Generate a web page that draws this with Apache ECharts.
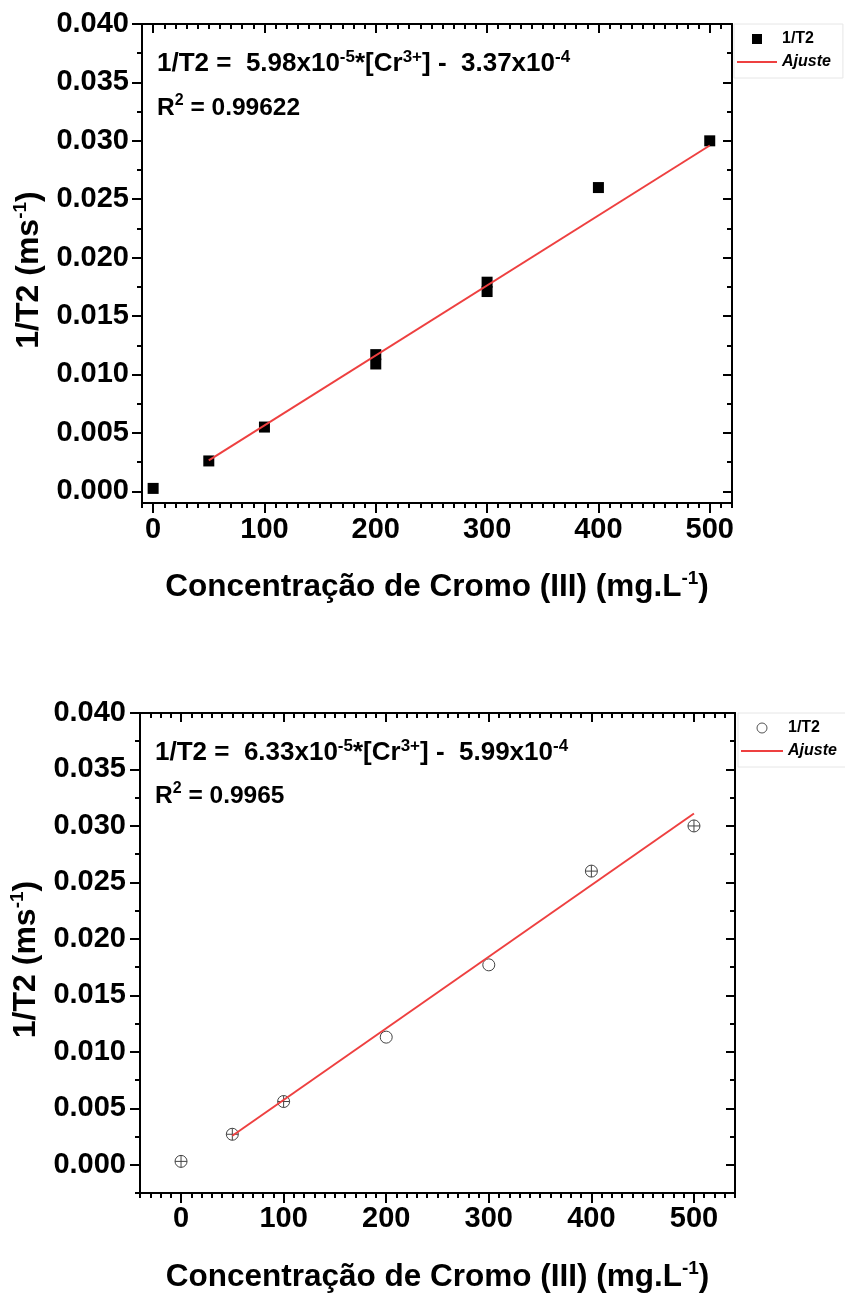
<!DOCTYPE html>
<html><head><meta charset="utf-8">
<script src="https://cdn.jsdelivr.net/npm/echarts@6/dist/echarts.min.js"></script>
<style>html,body{margin:0;padding:0;background:#fff}#c{width:845px;height:1293px}</style>
</head><body><div id="c"></div>
<script>
// ---- data ----
const concTop = [0, 50, 100, 200, 200, 300, 300, 400, 500];
const invT2Top = [0.00025, 0.0026, 0.0055, 0.0117, 0.0109, 0.0179, 0.0171, 0.0260, 0.0300];
const fitXTop = [50, 500];
const fitYTop = [0.00265, 0.0296];

const concBottom = [0, 50, 100, 200, 300, 400, 500];
const invT2Bottom = [0.0003, 0.0027, 0.0056, 0.0113, 0.0177, 0.0260, 0.0300];
const errCrossBottom = [true, true, true, false, false, true, true];
const fitXBottom = [50, 500];
const fitYBottom = [0.00257, 0.0311];

const xMajorTicks = [0, 100, 200, 300, 400, 500];
const yMajorTicks = [0, 0.005, 0.010, 0.015, 0.020, 0.025, 0.030, 0.035, 0.040];
const xMinorStep = 10;
const yMinorStep = 0.0025;

const eqTop = ['1/T2 =  5.98x10', '-5', '*[Cr', '3+', '] -  3.37x10', '-4'];
const r2Top = ['R', '2', ' = 0.99622'];
const eqBottom = ['1/T2 =  6.33x10', '-5', '*[Cr', '3+', '] -  5.99x10', '-4'];
const r2Bottom = ['R', '2', ' = 0.9965'];
const xName = ['Concentração de Cromo (III) (mg.L', '-1', ')'];
const yName = ['1/T2 (ms', '-1', ')'];

// ---- helpers ----
const FONT = '"Liberation Sans", Arial, Helvetica, sans-serif';
const RED = '#ee4040';
function range(a, b, s) {
  const r = [];
  const start = Math.ceil(a / s - 1e-9);
  for (let i = start; i * s <= b + 1e-12; i++) r.push(+(i * s).toFixed(6));
  return r;
}
function richStr(parts) {
  return parts.map((p, i) => (i % 2 === 0 ? '{n|' + p + '}' : '{s|' + p + '}')).join('');
}
function rich(big, small, lh) {
  return {
    n: {fontFamily: FONT, fontWeight: 'bold', fontSize: big, color: '#000', lineHeight: lh},
    s: {fontFamily: FONT, fontWeight: 'bold', fontSize: small, color: '#000', lineHeight: small, verticalAlign: 'top'}
  };
}
const lineSt = {color: '#000', width: 2};
const tickLabel = {fontFamily: FONT, fontWeight: 'bold', fontSize: 29, color: '#000'};

function axesFor(dim, g, min, max, majors, minorStep, nameGap, labelMargin, fmt) {
  const minors = range(min, max, minorStep);
  const posA = dim === 'x' ? 'bottom' : 'left';
  const posB = dim === 'x' ? 'top' : 'right';
  const common = {type: 'value', gridIndex: g, min: min, max: max, splitLine: {show: false}, minorTick: {show: false}};
  const names = dim === 'x' ? xName : yName;
  const nameStyle = {rich: rich(dim === 'x' ? 31.5 : 32, 19, 36)};
  if (dim === 'y') nameStyle.padding = [0, 13, 0, 0];
  return [
    Object.assign({}, common, {
      position: posA,
      name: richStr(names), nameLocation: 'middle', nameGap: nameGap,
      nameRotate: dim === 'x' ? 0 : 90,
      nameTextStyle: nameStyle,
      axisLine: {show: true, onZero: false, lineStyle: lineSt},
      axisTick: {show: true, inside: false, length: 10, customValues: majors, lineStyle: lineSt},
      axisLabel: {show: true, margin: labelMargin, customValues: majors, formatter: fmt, ...tickLabel}
    }),
    Object.assign({}, common, {
      position: posA,
      axisLine: {show: false, onZero: false},
      axisTick: {show: true, inside: false, length: 5, customValues: minors, lineStyle: lineSt},
      axisLabel: {show: false}
    }),
    Object.assign({}, common, {
      position: posB,
      axisLine: {show: true, onZero: false, lineStyle: lineSt},
      axisTick: {show: true, inside: true, length: 9, customValues: majors, lineStyle: lineSt},
      axisLabel: {show: false}
    }),
    Object.assign({}, common, {
      position: posB,
      axisLine: {show: false, onZero: false},
      axisTick: {show: true, inside: true, length: 5, customValues: minors, lineStyle: lineSt},
      axisLabel: {show: false}
    })
  ];
}
const fmtX = v => String(Math.round(v));
const fmtY = v => v.toFixed(3);

const crossPath = 'path://M0,10A10,10 0 1,1 20,10A10,10 0 1,1 0,10ZM10,0L10,20M0,10L20,10';
const squareIcon = 'path://M0,0L10,0L10,10L0,10Z';
const lineIcon = 'path://M0,0L40,0L40,2L0,2Z';

const legendText = {fontFamily: FONT, fontWeight: 'bold', fontSize: 16, color: '#000', lineHeight: 16};

const option = {
  animation: false,
  backgroundColor: '#fff',
  grid: [
    {left: 142, top: 24, right: 845 - 732, height: 479, outerBoundsMode: 'none', containLabel: false},
    {left: 140, top: 713, right: 845 - 735, height: 480, outerBoundsMode: 'none', containLabel: false}
  ],
  xAxis: [].concat(
    axesFor('x', 0, -10, 520, xMajorTicks, xMinorStep, 66, 12, fmtX),
    axesFor('x', 1, -40, 540, xMajorTicks, xMinorStep, 66, 11, fmtX)
  ),
  yAxis: [].concat(
    axesFor('y', 0, -0.001, 0.040, yMajorTicks, yMinorStep, 93, 13, fmtY),
    axesFor('y', 1, -0.0025, 0.040, yMajorTicks, yMinorStep, 91, 14, fmtY)
  ),
  legend: [
    {
      left: 734, top: 24, orient: 'vertical', padding: [7, 12, 8, 3],
      itemWidth: 40, itemHeight: 10, itemGap: 7,
      borderColor: '#e6e6e6', borderWidth: 1, selectedMode: false,
      textStyle: legendText,
      data: [
        {name: '1/T2', icon: squareIcon, itemStyle: {color: '#000', borderWidth: 0, opacity: 1}},
        {name: 'Ajuste', icon: lineIcon, itemStyle: {color: RED, borderWidth: 0}, textStyle: {fontStyle: 'italic'}}
      ]
    },
    {
      left: 738, top: 713, orient: 'vertical', padding: [7, 12, 8, 3],
      itemWidth: 42, itemHeight: 10, itemGap: 7,
      borderColor: '#e6e6e6', borderWidth: 1, selectedMode: false,
      textStyle: legendText,
      data: [
        {name: '1/T2', icon: 'circle', itemStyle: {color: '#fff', borderColor: '#555', borderWidth: 1, opacity: 1}},
        {name: 'Ajuste', icon: lineIcon, itemStyle: {color: RED, borderWidth: 0}, textStyle: {fontStyle: 'italic'}}
      ]
    }
  ],
  graphic: [
    {type: 'text', x: 157, y: 64, style: {text: richStr(eqTop), rich: rich(26, 17, 30), verticalAlign: 'middle', align: 'left'}},
    {type: 'text', x: 157, y: 108, style: {text: richStr(r2Top), rich: rich(24.5, 16, 30), verticalAlign: 'middle', align: 'left'}},
    {type: 'text', x: 155, y: 753, style: {text: richStr(eqBottom), rich: rich(26, 17, 30), verticalAlign: 'middle', align: 'left'}},
    {type: 'text', x: 155, y: 796, style: {text: richStr(r2Bottom), rich: rich(24.5, 16, 30), verticalAlign: 'middle', align: 'left'}}
  ],
  series: [
    {
      type: 'scatter', name: '1/T2', xAxisIndex: 0, yAxisIndex: 0,
      symbol: 'rect', symbolSize: 11, itemStyle: {color: '#000', opacity: 1},
      data: concTop.map((x, i) => [x, invT2Top[i]]), z: 3
    },
    {
      type: 'line', name: 'Ajuste', xAxisIndex: 0, yAxisIndex: 0,
      symbol: 'none', lineStyle: {color: RED, width: 2}, itemStyle: {color: RED},
      data: fitXTop.map((x, i) => [x, fitYTop[i]]), z: 4
    },
    {
      type: 'scatter', name: '1/T2', xAxisIndex: 4, yAxisIndex: 4,
      symbolSize: 12,
      itemStyle: {color: 'rgba(255,255,255,0)', borderColor: '#444', borderWidth: 1, opacity: 1},
      data: concBottom.map((x, i) => ({value: [x, invT2Bottom[i]], symbol: errCrossBottom[i] ? crossPath : 'circle'})), z: 3
    },
    {
      type: 'line', name: 'Ajuste', xAxisIndex: 4, yAxisIndex: 4,
      symbol: 'none', lineStyle: {color: RED, width: 2}, itemStyle: {color: RED},
      data: fitXBottom.map((x, i) => [x, fitYBottom[i]]), z: 4
    }
  ]
};
const chart = echarts.init(document.getElementById('c'), null, {renderer: 'canvas'});
chart.setOption(option);
</script>
</body></html>
